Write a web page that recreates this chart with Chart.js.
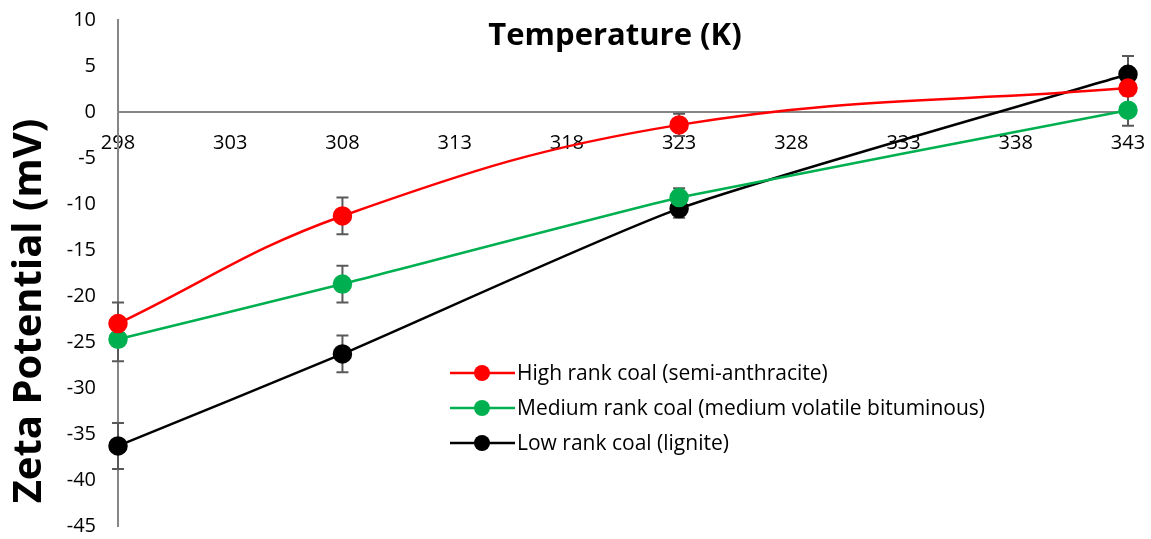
<!DOCTYPE html>
<html>
<head>
<meta charset="utf-8">
<script src="https://cdn.jsdelivr.net/npm/chart.js@4"></script>
<style>
  body { margin: 0; background: #fff; }
  #wrap { width: 1151px; height: 539px; }
</style>
</head>
<body>
<div id="wrap"><canvas id="chartLine" width="1151" height="539"></canvas></div>
<script>
// temperatures (K)
var temps = [298, 308, 323, 343];
var seriesNames = [
  "High rank coal (semi-anthracite)",
  "Medium rank coal (medium volatile bituminous)",
  "Low rank coal (lignite)",
];
var highRank = [-23.0, -11.3, -1.4, 2.6];
var mediumRank = [-24.7, -18.7, -9.3, 0.2];
var lowRank = [-36.3, -26.3, -10.5, 4.1];
// error bar half-widths
var highErr = [2.3, 2.0, 1.2, 0.8];
var mediumErr = [2.4, 2.0, 1.0, 1.7];
var lowErr = [2.5, 2.0, 1.0, 2.0];
var xTicks = [298, 303, 308, 313, 318, 323, 328, 333, 338, 343];
var yTicks = [-45, -40, -35, -30, -25, -20, -15, -10, -5, 0, 5, 10];

var fontFam = "'Open Sans', sans-serif";

function pts(vals) {
  return temps.map(function (t, i) { return { x: t, y: vals[i] }; });
}

var errorBars = {
  id: "errorBars",
  beforeDatasetsDraw: function (chart) {
    var c = chart.ctx;
    var xs = chart.scales.x, ys = chart.scales.y;
    c.save();
    c.strokeStyle = "#595959";
    c.lineWidth = 2;
    chart.data.datasets.forEach(function (ds) {
      ds.data.forEach(function (p, i) {
        var e = ds.errors[i];
        var px = xs.getPixelForValue(p.x);
        var top = ys.getPixelForValue(p.y + e);
        var bot = ys.getPixelForValue(p.y - e);
        c.beginPath();
        c.moveTo(px, top); c.lineTo(px, bot);
        c.moveTo(px - 6, top); c.lineTo(px + 6, top);
        c.moveTo(px - 6, bot); c.lineTo(px + 6, bot);
        c.stroke();
      });
    });
    c.restore();
  },
  afterDraw: function (chart) {
    var c = chart.ctx;
    var area = chart.chartArea;
    c.save();
    // titles
    c.fillStyle = "#000";
    c.font = "bold 31px " + fontFam;
    c.textAlign = "center";
    c.textBaseline = "middle";
    c.fillText("Temperature (K)", (area.left + area.right) / 2 - 8, area.top + 16);
    c.save();
    c.translate(30, 311);
    c.rotate(-Math.PI / 2);
    c.font = "bold 40px " + fontFam;
    c.fillText("Zeta Potential (mV)", 0, 0);
    c.restore();
    // legend inside plot
    c.font = "21px " + fontFam;
    c.textAlign = "left";
    chart.data.datasets.forEach(function (ds, i) {
      var ly = 373 + i * 35;
      c.strokeStyle = ds.borderColor;
      c.lineWidth = 2.5;
      c.beginPath();
      c.moveTo(450, ly); c.lineTo(515, ly);
      c.stroke();
      c.fillStyle = ds.backgroundColor;
      c.beginPath();
      c.arc(482, ly, 8, 0, Math.PI * 2);
      c.fill();
      c.fillStyle = "#000";
      c.fillText(ds.label, 517, ly + 1);
    });
    c.restore();
  },
};

var ctx = document.getElementById("chartLine").getContext("2d");

const chartLine = new Chart(ctx, {
  type: "line",
  data: {
    datasets: [
      {
        label: seriesNames[0],
        data: pts(highRank),
        errors: highErr,
        borderColor: "#ff0000",
        backgroundColor: "#ff0000",
        borderWidth: 2.5,
        tension: 0.4,
        clip: false,
      },
      {
        label: seriesNames[1],
        data: pts(mediumRank),
        errors: mediumErr,
        borderColor: "#00b050",
        backgroundColor: "#00b050",
        borderWidth: 2.5,
        tension: 0.1,
        clip: false,
      },
      {
        label: seriesNames[2],
        data: pts(lowRank),
        errors: lowErr,
        borderColor: "#000000",
        backgroundColor: "#000000",
        borderWidth: 2.5,
        tension: 0.2,
        clip: false,
      },
    ],
  },
  options: {
    responsive: false,
    animation: false,
    layout: { padding: { top: 20, right: 23, bottom: 13, left: 0 } },
    elements: {
      point: { radius: 8.5, hoverRadius: 8.5, borderWidth: 0 },
    },
    plugins: {
      legend: { display: false },
      tooltip: { enabled: false },
    },
    scales: {
      x: {
        type: "linear",
        position: { y: 0 },
        min: 298,
        max: 343,
        afterBuildTicks: function (axis) {
          axis.ticks = xTicks.map(function (v) { return { value: v }; });
        },
        afterFit: function (axis) {
          axis.height = 0;
          axis.paddingLeft = 0;
          axis.paddingRight = 0;
        },
        grid: { display: false },
        border: { color: "#868686", width: 2 },
        ticks: {
          color: "#000",
          font: { family: fontFam, size: 20 },
          padding: 11,
          maxRotation: 0,
          autoSkip: false,
        },
      },
      y: {
        min: -45,
        max: 10,
        afterBuildTicks: function (axis) {
          axis.ticks = yTicks.map(function (v) { return { value: v }; });
        },
        afterFit: function (axis) {
          axis.width = 118;
          axis.paddingTop = 0;
          axis.paddingBottom = 0;
        },
        grid: { display: false },
        border: { color: "#868686", width: 2 },
        ticks: {
          color: "#000",
          font: { family: fontFam, size: 20 },
          padding: 14,
        },
      },
    },
  },
  plugins: [errorBars],
});
</script>
</body>
</html>
